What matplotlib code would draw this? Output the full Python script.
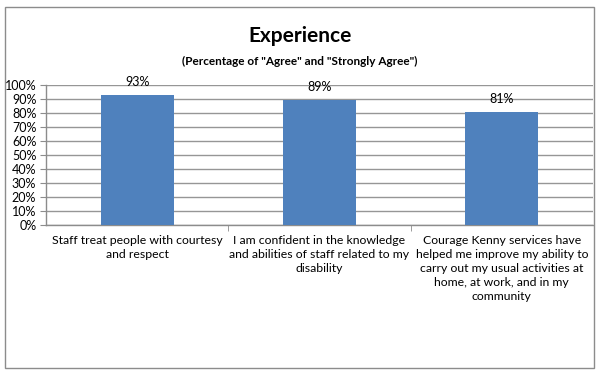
import matplotlib
matplotlib.use("Agg")
import matplotlib.pyplot as plt
from matplotlib.patches import Rectangle

categories = [
    "Staff treat people with courtesy\nand respect",
    "I am confident in the knowledge\nand abilities of staff related to my\ndisability",
    "Courage Kenny services have\nhelped me improve my ability to\ncarry out my usual activities at\nhome, at work, and in my\ncommunity",
]
values = [93, 89, 81]
yticks = [0, 10, 20, 30, 40, 50, 60, 70, 80, 90, 100]
ytick_labels = [f"{v}%" for v in yticks]

plt.rcParams['font.family'] = ['Lato', 'DejaVu Sans']

W, H = 600, 373
fig = plt.figure(figsize=(6.0, 3.73), dpi=100)
fig.patch.set_facecolor("white")

# outer border
fig.add_artist(Rectangle((5 / W, 1 - 368 / H), (594 - 5) / W, (368 - 7) / H,
                         transform=fig.transFigure, fill=False,
                         edgecolor="#8c8c8c", linewidth=1.0))

ax = fig.add_axes([46 / W, 1 - 225 / H, (593 - 46) / W, (225 - 85) / H])
x = list(range(len(categories)))
bars = ax.bar(x, values, width=0.4, color="#4F81BD", zorder=3)
ax.set_xlim(-0.5, len(categories) - 0.5)
ax.set_ylim(0, 100)
ax.set_yticks(yticks)
ax.set_yticklabels(ytick_labels, fontsize=9)
ax.yaxis.grid(True, color="#969696", linewidth=1.0, zorder=0)
ax.set_axisbelow(True)

for s in ["top", "right"]:
    ax.spines[s].set_visible(False)
for s in ["left", "bottom"]:
    ax.spines[s].set_color("#8c8c8c")
    ax.spines[s].set_linewidth(1.0)

ax.set_xticks(x)
ax.set_xticklabels(categories, fontsize=8.8, linespacing=1.35, va="top")
ax.tick_params(axis="x", length=0, pad=7)
ax.set_xticks([0.5, 1.5], minor=True)
ax.tick_params(axis="x", which="minor", length=4, color="#8c8c8c")
ax.tick_params(axis="y", length=4, color="#8c8c8c", pad=3)

for xi, v in zip(x, values):
    ax.annotate(f"{v}%", (xi, v), xytext=(0, 5), textcoords="offset points",
                ha="center", va="bottom", fontsize=9)

fig.text(300 / W, 1 - 36 / H, "Experience", ha="center", va="center",
         fontsize=15, fontweight="bold")
fig.text(300 / W, 1 - 61 / H, "(Percentage of \"Agree\" and \"Strongly Agree\")",
         ha="center", va="center", fontsize=8.5, fontweight="bold")

fig.savefig("out.png", dpi=100, facecolor="white")
